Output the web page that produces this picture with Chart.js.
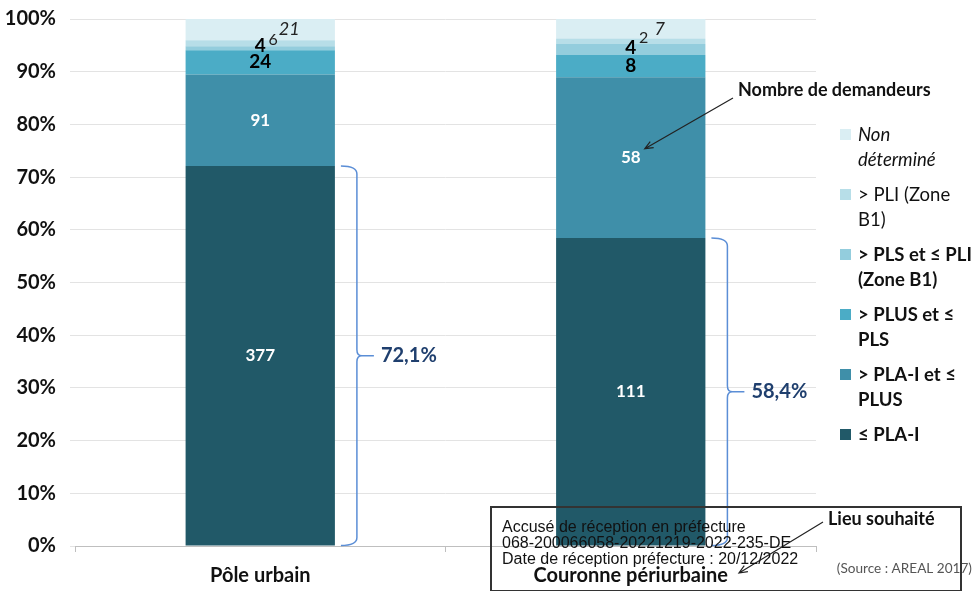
<!DOCTYPE html>
<html>
<head>
<meta charset="utf-8">
<script src="https://cdn.jsdelivr.net/npm/chart.js@4.4.0/dist/chart.umd.min.js"></script>
<style>
  body { margin: 0; background: #fff; }
  #wrap { position: relative; width: 980px; height: 591px; font-family: Lato, "Open Sans", sans-serif; }
  #legend { position: absolute; left: 840px; top: 122px; }
  .item { position: relative; padding-left: 18px; font-size: 18.5px; line-height: 25px; margin-bottom: 10px; white-space: pre-line; color: #111; }
  .item span.box { position: absolute; left: 0; top: 7px; width: 11px; height: 11px; }
  #stamp { position: absolute; left: 490px; top: 506px; width: 468px; height: 82px; border: 2px solid #333; }
  #stamp div { position: absolute; left: 10px; top: 11px; font-family: "Liberation Sans", Arial, sans-serif; font-size: 16px; line-height: 16px; color: #111; }
</style>
</head>
<body>
<div id="wrap">
  <canvas id="chart" width="980" height="591"></canvas>
  <div id="legend"></div>
  <div id="stamp"><div>Accusé de réception en préfecture<br>068-200066058-20221219-2022-235-DE<br>Date de réception préfecture : 20/12/2022</div></div>
</div>
<script>
// demandeurs par plafond de ressources, selon le lieu souhaité
const categories = ['Pôle urbain', 'Couronne périurbaine'];
const seriesNames = ['≤ PLA-I', '> PLA-I et ≤ PLUS', '> PLUS et ≤ PLS', '> PLS et ≤ PLI (Zone B1)', '> PLI (Zone B1)', 'Non déterminé'];
const legendText = ['≤ PLA-I', '> PLA-I et ≤\nPLUS', '> PLUS et ≤\nPLS', '> PLS et ≤ PLI\n(Zone B1)', '> PLI (Zone\nB1)', 'Non\ndéterminé'];
const plaI = [377, 111];
const plaIToPlus = [91, 58];
const plusToPls = [24, 8];
const plsToPli = [4, 4];
const abovePli = [6, 2];
const nonDetermine = [21, 7];
const colors = ['#215968', '#3F8FA9', '#4BACC6', '#93CDDD', '#B7DEE8', '#DAEEF3'];

const counts = [plaI, plaIToPlus, plusToPls, plsToPli, abovePli, nonDetermine];
const totals = categories.map((c, i) => counts.reduce((s, arr) => s + arr[i], 0));

// style of the value labels drawn on each segment
const labelStyle = [
    { color: '#fff', font: 'bold 17px Lato', dx: 0, dy: 0 },
    { color: '#fff', font: 'bold 17px Lato', dx: 0, dy: 0 },
    { color: '#000', font: 'bold 19px Lato', dx: 0, dy: 0 },
    { color: '#000', font: 'bold 19px Lato', dx: 0, dy: -2 },
    { color: '#222', font: '16px Lato', dx: 13, dy: -3 },
    { color: '#222', font: 'italic 18px Lato', dx: 29, dy: 0 }
];

function drawArrow(ctx, x1, y1, x2, y2) {
    const a = Math.atan2(y2 - y1, x2 - x1);
    ctx.beginPath();
    ctx.moveTo(x1, y1);
    ctx.lineTo(x2, y2);
    ctx.moveTo(x2 - 9 * Math.cos(a - 0.4), y2 - 9 * Math.sin(a - 0.4));
    ctx.lineTo(x2, y2);
    ctx.lineTo(x2 - 9 * Math.cos(a + 0.4), y2 - 9 * Math.sin(a + 0.4));
    ctx.stroke();
}

const overlay = {
    id: 'overlay',
    afterDatasetsDraw(chart) {
        const ctx = chart.ctx;
        ctx.save();
        ctx.textAlign = 'center';
        ctx.textBaseline = 'middle';
        chart.data.datasets.forEach((ds, d) => {
            const meta = chart.getDatasetMeta(d);
            meta.data.forEach((bar, i) => {
                const st = labelStyle[d];
                ctx.font = st.font;
                ctx.fillStyle = st.color;
                ctx.fillText(counts[d][i], bar.x + st.dx, (bar.y + bar.base) / 2 + st.dy);
            });
        });

        // accolades sur la part <= PLA-I
        const meta0 = chart.getDatasetMeta(0);
        meta0.data.forEach((bar, i) => {
            const top = bar.y, bottom = bar.base, mid = (top + bottom) / 2;
            const x0 = bar.x + bar.width / 2 + 6, x1 = x0 + 16;
            ctx.strokeStyle = '#5B8ED6';
            ctx.lineWidth = 1.5;
            ctx.beginPath();
            ctx.moveTo(x0, top);
            ctx.quadraticCurveTo(x1, top, x1, top + 8);
            ctx.lineTo(x1, mid - 6);
            ctx.quadraticCurveTo(x1, mid, x1 + 5, mid);
            ctx.quadraticCurveTo(x1, mid, x1, mid + 6);
            ctx.lineTo(x1, bottom - 8);
            ctx.quadraticCurveTo(x1, bottom, x0, bottom);
            ctx.moveTo(x1 + 5, mid);
            ctx.lineTo(x1 + 17, mid);
            ctx.stroke();
            const pct = (plaI[i] / totals[i] * 100).toFixed(1).replace('.', ',') + '%';
            ctx.font = 'bold 20px Lato';
            ctx.fillStyle = '#1F3F6E';
            ctx.textAlign = 'left';
            ctx.fillText(pct, x1 + 24, mid);
        });

        // annotations
        ctx.fillStyle = '#111';
        ctx.font = 'bold 18px Lato';
        ctx.textAlign = 'left';
        ctx.fillText('Nombre de demandeurs', 738, 90);
        ctx.fillText('Lieu souhaité', 828, 519);
        ctx.strokeStyle = '#222';
        ctx.lineWidth = 1.2;
        const b = chart.getDatasetMeta(1).data[1];
        drawArrow(ctx, 733, 98, b.x + 14, (b.y + b.base) / 2 - 9);
        drawArrow(ctx, 823, 522, 739, 573);

        ctx.font = '13.6px Lato';
        ctx.fillStyle = '#555';
        ctx.textAlign = 'right';
        ctx.fillText('(Source : AREAL 2017)', 972, 569);
        ctx.restore();
    }
};

new Chart(document.getElementById('chart'), {
    type: 'bar',
    data: {
        labels: categories,
        datasets: counts.map((arr, d) => ({
            label: seriesNames[d],
            data: arr.map((v, i) => v / totals[i] * 100),
            backgroundColor: colors[d],
            barPercentage: 0.403,
            categoryPercentage: 1
        }))
    },
    options: {
        responsive: false,
        animation: false,
        layout: { padding: { top: 19, right: 164, left: 0, bottom: 0 } },
        plugins: { legend: { display: false }, tooltip: { enabled: false } },
        scales: {
            x: {
                stacked: true,
                afterFit: s => { s.height = 45; s.paddingLeft = 0; s.paddingRight = 0; },
                grid: { drawOnChartArea: false, drawTicks: true, tickLength: 6, color: '#BFBFBF' },
                border: { color: '#BFBFBF' },
                ticks: { color: '#111', font: { family: 'Lato', size: 20, weight: 'bold' }, padding: 12 }
            },
            y: {
                stacked: true,
                min: 0,
                max: 100,
                afterFit: s => { s.width = 75; s.paddingTop = 0; s.paddingBottom = 0; },
                grid: { color: '#E3E3E3', tickLength: 5 },
                border: { display: false },
                ticks: {
                    stepSize: 10,
                    padding: 14,
                    color: '#111',
                    font: { family: 'Lato', size: 20, weight: 'bold' },
                    callback: v => v + '%'
                }
            }
        }
    },
    plugins: [overlay]
});

// legende, de haut en bas
const legend = document.getElementById('legend');
for (let d = counts.length - 1; d >= 0; d--) {
    const el = document.createElement('div');
    el.className = 'item';
    el.style.fontWeight = d <= 3 ? 'bold' : 'normal';
    el.style.fontStyle = d === 5 ? 'italic' : 'normal';
    el.innerHTML = '<span class="box" style="background:' + colors[d] + '"></span>';
    el.appendChild(document.createTextNode(legendText[d]));
    legend.appendChild(el);
}
</script>
</body>
</html>
